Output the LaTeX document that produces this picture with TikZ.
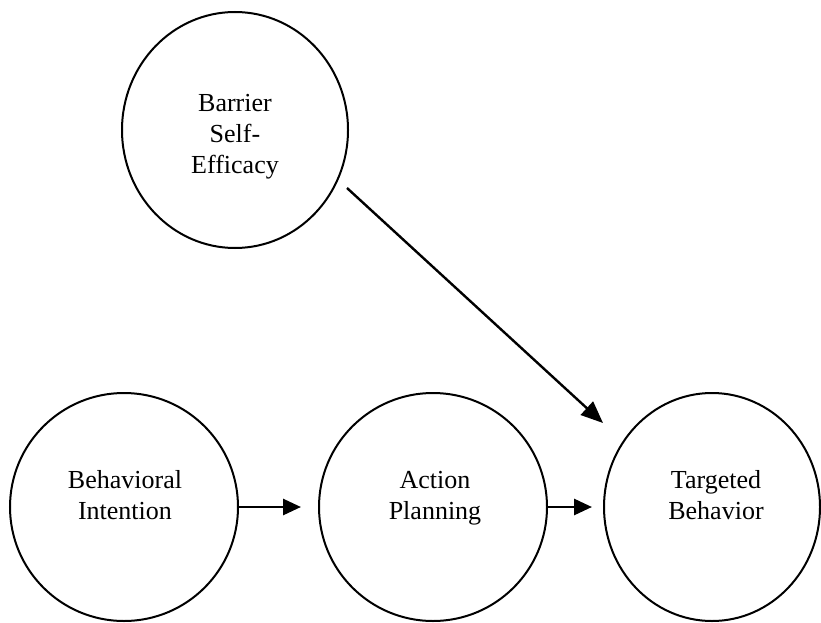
\documentclass[tikz,border=0pt]{standalone}
\usepackage{fontspec}
\setmainfont{Liberation Serif}
\usetikzlibrary{shapes.geometric,arrows.meta}
\begin{document}
\begin{tikzpicture}[x=1pt,y=-1pt,
  construct/.style={ellipse,draw,line width=2pt,inner sep=0pt},
  caption/.style={align=center,inner sep=0pt,font=\fontsize{26}{31}\selectfont},
  path/.style={line width=2.8pt,-{Triangle[length=18pt,width=16pt]}}]
  \useasboundingbox (0,0) rectangle (821,623);
  % constructs
  \node[construct,minimum width=226pt,minimum height=236pt] (bse) at (235,130) {};
  \node[construct,minimum width=228pt,minimum height=228pt] (bi) at (124,507) {};
  \node[construct,minimum width=228pt,minimum height=228pt] (ap) at (433,507) {};
  \node[construct,minimum width=216pt,minimum height=228pt] (tb) at (712,507) {};
  % labels
  \node[caption] (bset) at (235,136) {\strut Barrier\\\strut Self-\\\strut Efficacy};
  \node[caption] (bit) at (125,498) {\strut Behavioral\\\strut Intention};
  \node[caption] (apt) at (435,498) {\strut Action\\\strut Planning};
  \node[caption] (tbt) at (716,498) {\strut Targeted\\\strut Behavior};
  % paths
  \draw[path,shorten >=17pt] (bi.east) -- (ap.west);
  \draw[path,shorten >=11pt] (ap.east) -- (tb.west);
  \coordinate (s) at (347,188);
  \coordinate (t) at (603,423);
  \draw[line width=2.4pt,-{Triangle[length=22pt,width=18pt]}] (s) -- (t);
\end{tikzpicture}
\end{document}
